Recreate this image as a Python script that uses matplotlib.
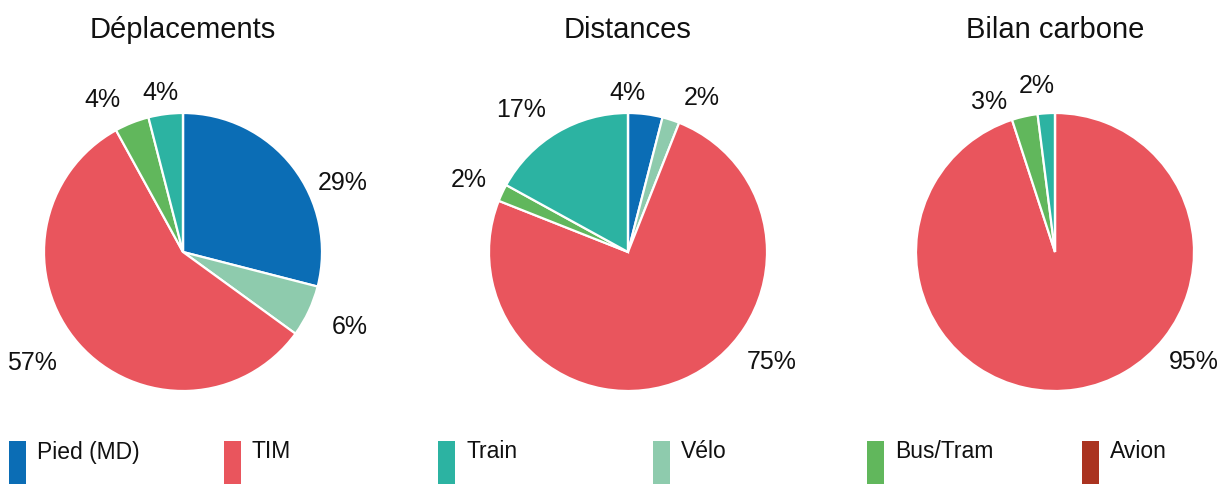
import numpy as np
import matplotlib
matplotlib.use("Agg")
import matplotlib.pyplot as plt
from matplotlib.patches import Rectangle

plt.rcParams['font.family'] = ['Liberation Sans', 'DejaVu Sans']

# ---- data ----
categories = ["Pied (MD)", "TIM", "Train", "Vélo", "Bus/Tram", "Avion"]
colors = {"Pied (MD)": "#0b6db5", "TIM": "#e9555d", "Train": "#2cb3a2",
          "Vélo": "#8ecbad", "Bus/Tram": "#61b75c", "Avion": "#aa3320"}
titles = ["Déplacements", "Distances", "Bilan carbone"]
# slice order clockwise from 12 o'clock
slice_order = ["Pied (MD)", "Vélo", "TIM", "Bus/Tram", "Train", "Avion"]
deplacements = [29, 6, 57, 4, 4, 0]
distances = [4, 2, 75, 2, 17, 0]
bilan_carbone = [0, 0, 95, 3, 2, 0]
series = [deplacements, distances, bilan_carbone]

# ---- layout (pixel units, y up) ----
W, H = 1222, 484
fig = plt.figure(figsize=(W / 100, H / 100), dpi=100)
ax = fig.add_axes([0, 0, 1, 1])
ax.set_xlim(0, W)
ax.set_ylim(0, H)
ax.set_aspect('equal')
ax.axis('off')

centers_x = [183, 628, 1055]
cy_px = 252
radius = 139
label_R = radius + 31
y_top_px, y_bot_px = 88, 361
# manual label nudges (pixels, image coords) for overlap avoidance
nudges = {(0, 0): (0, 35), (0, 1): (-5, 3), (0, 2): (4, 2), (0, 3): (0, 6),
          (0, 4): (40, 5),
          (1, 0): (-63, 5), (1, 1): (3, 8), (1, 2): (-12, 1), (1, 3): (13, 0),
          (1, 4): (5, 4),
          (2, 2): (-17, 1), (2, 3): (-3, 14), (2, 4): (45, -2)}

for p, vals in enumerate(series):
    cx = centers_x[p]
    cy = H - cy_px
    cols = [colors[c] for c in slice_order]
    wedges, _ = ax.pie(vals, colors=cols, startangle=90, counterclock=False,
                       center=(cx, cy), radius=radius, frame=True,
                       wedgeprops=dict(edgecolor='white', linewidth=1.6))
    total = float(sum(vals))
    cum = 0.0
    for i, v in enumerate(vals):
        if v <= 0:
            continue
        mid = (cum + v / 2) / total * 2 * np.pi
        cum += v
        y_img = cy_px - label_R * np.cos(mid)
        y_img = min(max(y_img, y_top_px), y_bot_px)
        dy = y_img - cy_px
        dx = np.sqrt(max(label_R ** 2 - dy ** 2, 0))
        if np.sin(mid) >= 0:
            x, ha = cx + dx, 'left'
        else:
            x, ha = cx - dx, 'right'
        nx, ny = nudges.get((p, i), (0, 0))
        ax.text(x + nx, H - (y_img + ny), f"{v}%", ha=ha, va='center',
                fontsize=18, color='#111111')
    ax.text(cx, H - 30, titles[p], ha='center', va='center', fontsize=21,
            color='#111111')

ax.set_xlim(0, W)
ax.set_ylim(0, H)

# ---- legend ----
for k, cat in enumerate(categories):
    x0 = 9 + k * 214.6
    ax.add_patch(Rectangle((x0, 0), 17, 43, facecolor=colors[cat],
                           edgecolor='none'))
    ax.text(x0 + 28, H - 452, cat, ha='left', va='center', fontsize=16.5,
            color='#111111')

fig.savefig("out.png", dpi=100)
